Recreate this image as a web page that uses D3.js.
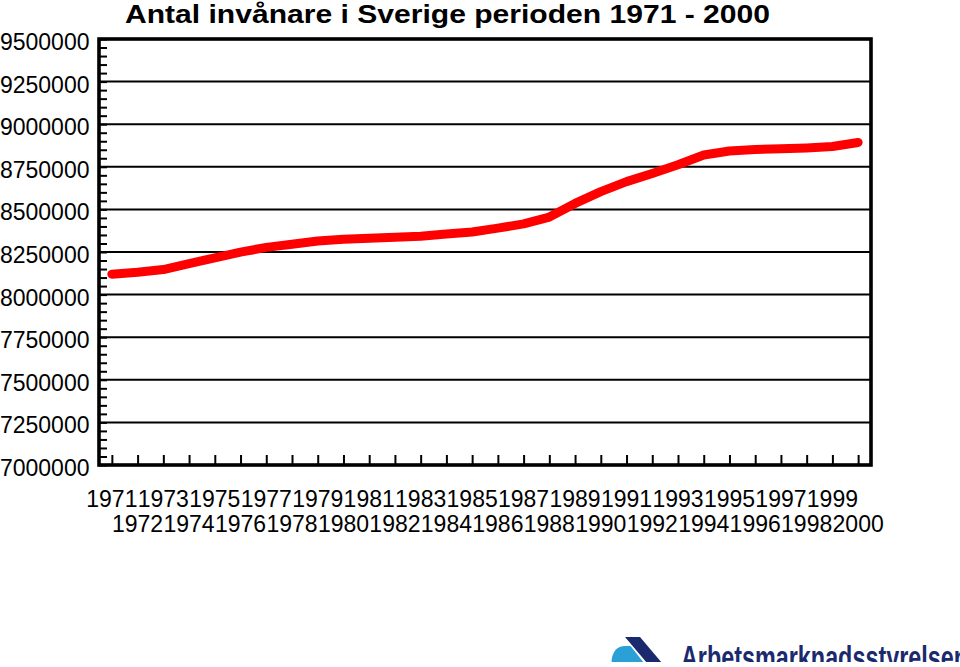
<!DOCTYPE html>
<html>
<head>
<meta charset="utf-8">
<script src="https://cdn.jsdelivr.net/npm/d3@7"></script>
<style>
  html, body { margin: 0; padding: 0; background: #fff; }
  svg { display: block; }
  text { font-family: "Liberation Sans", Arial, sans-serif; }
</style>
</head>
<body>
<svg id="chart" width="960" height="667"></svg>
<script>
// ---- data ----
const title = "Antal invånare i Sverige perioden 1971 - 2000";
const years = [1971,1972,1973,1974,1975,1976,1977,1978,1979,1980,
               1981,1982,1983,1984,1985,1986,1987,1988,1989,1990,
               1991,1992,1993,1994,1995,1996,1997,1998,1999,2000];
const population = [8120000,8131000,8147000,8182000,8216000,8249000,8277000,8296000,8315000,8325000,
                    8331000,8337000,8343000,8355000,8367000,8390000,8415000,8455000,8535000,8604000,
                    8663000,8711000,8762000,8819000,8843000,8852000,8856000,8861000,8869000,8893000];
const yTicks = [7000000,7250000,7500000,7750000,8000000,8250000,8500000,8750000,9000000,9250000,9500000];
const yMinorStep = 50000;
const logoText = "Arbetsmarknadsstyrelsen";

(function () {
// ---- layout ----
const svg = d3.select("#chart");
const pL = 99, pR = 871, pT = 39, pB = 465;

const x = d3.scalePoint().domain(years).range([pL, pR]).padding(0.5);
const y = d3.scaleLinear().domain([7000000, 9500000]).range([pB, pT]);

// title
svg.append("text")
  .attr("x", 125).attr("y", 23)
  .attr("font-size", 26.5).attr("font-weight", "bold")
  .attr("textLength", 645).attr("lengthAdjust", "spacingAndGlyphs")
  .text(title);

// gridlines
svg.append("g").selectAll("line").data(yTicks.slice(1, -1)).join("line")
  .attr("x1", pL).attr("x2", pR)
  .attr("y1", d => y(d)).attr("y2", d => y(d))
  .attr("stroke", "#000").attr("stroke-width", 2);

// minor y ticks (inward)
const minor = d3.range(7000000, 9500000 + 1, yMinorStep);
const yMinorAxis = d3.axisRight(y).tickValues(minor).tickSize(8).tickFormat("");
const gm = svg.append("g").attr("transform", `translate(${pL},0)`).call(yMinorAxis);
gm.select(".domain").remove();
gm.selectAll(".tick line").attr("stroke", "#000").attr("stroke-width", 2);

// x ticks (inward, up)
const xAxis = d3.axisTop(x).tickSize(10).tickFormat("");
const gx = svg.append("g").attr("transform", `translate(0,${pB})`).call(xAxis);
gx.select(".domain").remove();
gx.selectAll(".tick line").attr("stroke", "#000").attr("stroke-width", 2);

// y labels
const yAxis = d3.axisLeft(y).tickValues(yTicks).tickSize(0).tickPadding(0).tickFormat(d3.format("d"));
const gy = svg.append("g").attr("transform", `translate(89.5,0)`).call(yAxis);
gy.select(".domain").remove();
gy.selectAll(".tick text")
  .attr("font-size", 23).attr("font-family", "Liberation Sans, Arial, sans-serif")
  .attr("fill", "#000").attr("dy", null).attr("y", 10.5);

// x labels, alternating rows
svg.append("g").selectAll("text").data(years).join("text")
  .attr("x", d => x(d))
  .attr("y", (d, i) => i % 2 === 0 ? 506.5 : 531.5)
  .attr("text-anchor", "middle")
  .attr("font-size", 23)
  .text(d => d);

// frame
svg.append("rect")
  .attr("x", pL).attr("y", pT)
  .attr("width", pR - pL).attr("height", pB - pT)
  .attr("fill", "none").attr("stroke", "#000").attr("stroke-width", 3.6);

// line
const line = d3.line().x((d, i) => x(years[i])).y(d => y(d));
svg.append("path").datum(population)
  .attr("d", line)
  .attr("fill", "none").attr("stroke", "#ff0000")
  .attr("stroke-width", 9).attr("stroke-linecap", "round").attr("stroke-linejoin", "round");

// logo
svg.append("clipPath").attr("id", "logoClip")
  .append("rect").attr("x", 600).attr("y", 600).attr("width", 360).attr("height", 62);
const logo = svg.append("g").attr("clip-path", "url(#logoClip)");
logo.append("path")
  .attr("d", "M611.5,663 C611.5,652 617,646 625,646 L630.5,646 L644,663 Z")
  .attr("fill", "#2aa0d6");
logo.append("path")
  .attr("d", "M625,637 L640,637 L662,663 L647,663 Z")
  .attr("fill", "#1b2a6e");
logo.append("text")
  .attr("x", 681).attr("y", 669)
  .attr("font-family", "Liberation Serif, 'DejaVu Serif', serif")
  .attr("font-weight", "bold")
  .attr("font-size", 33)
  .attr("fill", "#1b2a6e")
  .attr("textLength", 287).attr("lengthAdjust", "spacingAndGlyphs")
  .text(logoText);
})();
</script>
</body>
</html>
